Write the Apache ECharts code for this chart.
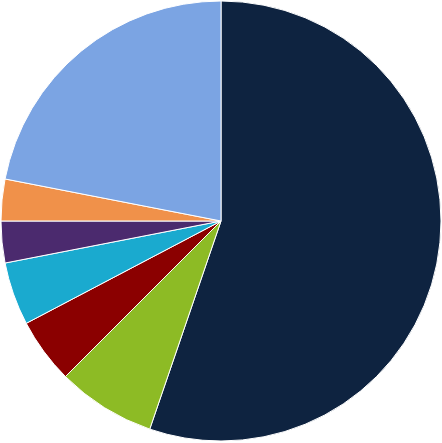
<!DOCTYPE html>
<html><head><meta charset="utf-8">
<script src="https://cdn.jsdelivr.net/npm/echarts@6/dist/echarts.min.js"></script>
<style>html,body{margin:0;padding:0;background:#fff}#c{width:442px;height:443px}</style>
</head><body><div id="c"></div>
<script>
const categories = ['A','B','C','D','E','F','G'];
const values = [55.25, 7.25, 4.8, 4.64, 3.06, 3.06, 21.94];
const colors = ['#0e2340','#8dbb25','#8b0000','#1aaacf','#4b2a6e','#f0914a','#7ba4e3'];
const chart = echarts.init(document.getElementById('c'));
chart.setOption({
  animation:false,
  series:[{
    type:'pie',
    center:[221,221],
    radius:[0,220],
    startAngle:90,
    clockwise:true,
    label:{show:false},
    labelLine:{show:false},
    itemStyle:{borderColor:'#fff',borderWidth:1},
    emphasis:{disabled:true},
    data: categories.map((c,i)=>({name:c,value:values[i],itemStyle:{color:colors[i]}}))
  }]
});
</script></body></html>
